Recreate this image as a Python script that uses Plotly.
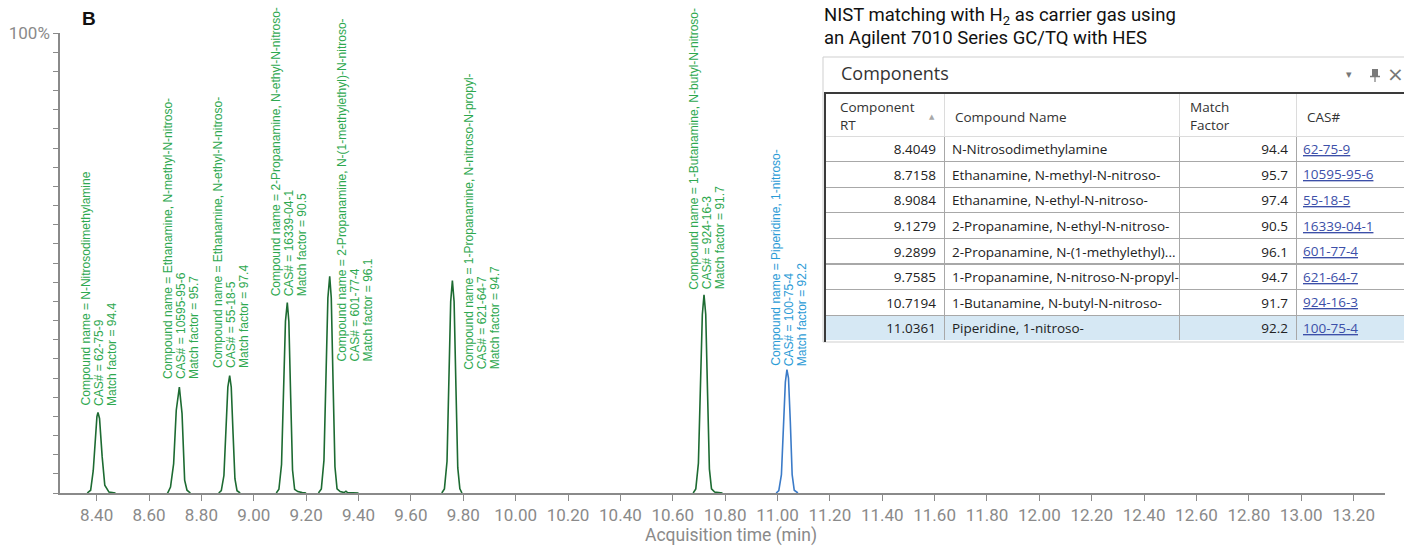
import plotly.graph_objects as go

W, H = 1404, 546

# ---------------- data ----------------
rts = [8.4049, 8.7158, 8.9084, 9.1279, 9.2899, 9.7585, 10.7194, 11.0361]
names = ["N-Nitrosodimethylamine",
         "Ethanamine, N-methyl-N-nitroso-",
         "Ethanamine, N-ethyl-N-nitroso-",
         "2-Propanamine, N-ethyl-N-nitroso-",
         "2-Propanamine, N-(1-methylethyl)-N-nitroso-",
         "1-Propanamine, N-nitroso-N-propyl-",
         "1-Butanamine, N-butyl-N-nitroso-",
         "Piperidine, 1-nitroso-"]
cas = ["62-75-9", "10595-95-6", "55-18-5", "16339-04-1",
       "601-77-4", "621-64-7", "924-16-3", "100-75-4"]
match = [94.4, 95.7, 97.4, 90.5, 96.1, 94.7, 91.7, 92.2]
apex_height = [17.5, 23.0, 25.5, 41.4, 47.1, 46.2, 43.1, 26.8]
header_labels = ["Component<br>RT", "Compound Name", "Match<br>Factor", "CAS#"]

# chromatogram traces (time in min, abundance in %)
p1_t = [8.364, 8.377, 8.387, 8.396, 8.401, 8.405, 8.411, 8.421, 8.431, 8.447, 8.472]
p1_y = [0, 0.6, 4.9, 13.6, 16.6, 17.5, 16.2, 7.9, 1.7, 0.2, 0]
p2_t = [8.670, 8.673, 8.682, 8.694, 8.704, 8.7158, 8.726, 8.736, 8.745, 8.758]
p2_y = [0, 0.2, 1.3, 6.4, 18.0, 23.0, 17.3, 2.8, 0.6, 0]
p3_t = [8.866, 8.876, 8.886, 8.894, 8.901, 8.908, 8.914, 8.921, 8.928, 8.936, 8.948]
p3_y = [0, 0.5, 3.8, 14.0, 23.0, 25.5, 23.0, 12.8, 3.1, 0.5, 0]
p4_t = [9.086, 9.096, 9.106, 9.114, 9.121, 9.128, 9.134, 9.141, 9.148, 9.156, 9.168, 9.185, 9.200]
p4_y = [0, 0.8, 6.2, 22.8, 37.3, 41.4, 37.3, 20.7, 5.0, 0.8, 0.3, 0.1, 0]
p5_t = [9.247, 9.258, 9.268, 9.276, 9.283, 9.290, 9.296, 9.303, 9.310, 9.318, 9.330, 9.345,
        9.352, 9.358, 9.375, 9.400]
p5_y = [0, 0.9, 7.1, 25.9, 42.4, 47.1, 42.4, 23.6, 5.7, 0.9, 0.3, 0.1, 0.4, 0.1, 0.1, 0]
p6_t = [9.718, 9.728, 9.738, 9.746, 9.752, 9.7585, 9.765, 9.772, 9.779, 9.787, 9.795]
p6_y = [0, 0.9, 6.9, 25.4, 41.6, 46.2, 41.6, 23.1, 5.5, 0.9, 0]
p7_t = [10.678, 10.688, 10.698, 10.706, 10.713, 10.7194, 10.726, 10.733, 10.740, 10.748, 10.760, 10.790]
p7_y = [0, 0.9, 6.5, 23.7, 38.8, 43.1, 38.8, 21.6, 5.2, 0.9, 0.2, 0]
p8_t = [10.995, 11.005, 11.015, 11.023, 11.030, 11.0361, 11.042, 11.049, 11.056, 11.064, 11.078]
p8_y = [0, 0.5, 4.0, 14.7, 24.1, 26.8, 25.0, 15.5, 4.0, 0.6, 0]

x_ticks = [8.40, 8.60, 8.80, 9.00, 9.20, 9.40, 9.60, 9.80, 10.00, 10.20, 10.40, 10.60,
           10.80, 11.00, 11.20, 11.40, 11.60, 11.80, 12.00, 12.20, 12.40, 12.60, 12.80,
           13.00, 13.20]

# ---------------- styles / layout helpers ----------------
def px(x):
    return x / W

def py(y):
    return 1 - y / H

GREEN_LINE = "#1d6b32"
BLUE_LINE = "#3b7bc8"
GREEN_TXT = "#2ea84f"
BLUE_TXT = "#2b9bd6"
AXIS_GRAY = "#8a8a8a"
TABLE_FONT = "Open Sans"
LINK_BLUE = "#3c4fa8"

# (middle-line x shift px, text-bottom y shift px) for each peak label
label_shift = [(1, 6), (1, 7), (1, 7), (2, 5), (25, -86), (30, -90), (3, 4), (2, 3)]
line_gap = 13
# header label positions (left x px, centre y px)
header_pos = [(838, 116), (953, 116.7), (1188, 116), (1305, 116.7)]
# table geometry (px)
TABLE_TOP, HEADER_H, ROW_H = 93, 43, 25.6
CAS_X = 1302

fig = go.Figure()

green_t, green_y = [], []
for t, y in [(p1_t, p1_y), (p2_t, p2_y), (p3_t, p3_y), (p4_t, p4_y),
             (p5_t, p5_y), (p6_t, p6_y), (p7_t, p7_y)]:
    green_t += t + [None]
    green_y += y + [None]

fig.add_trace(go.Scatter(x=green_t, y=green_y, mode="lines",
                         line=dict(color=GREEN_LINE, width=1.6), showlegend=False,
                         connectgaps=False, hoverinfo="skip"))
fig.add_trace(go.Scatter(x=p8_t, y=p8_y, mode="lines",
                         line=dict(color=BLUE_LINE, width=1.6), showlegend=False,
                         hoverinfo="skip"))

# table
def short(n):
    n = n if len(n) <= 34 else n[:32] + "..."
    return n.replace(" ", "\u00a0")

n_rows = len(rts)
table_bottom = TABLE_TOP + HEADER_H + ROW_H * n_rows
fill_cols = [["#ffffff"] * (n_rows - 1) + ["#d6e8f4"]] * 4
fig.add_trace(go.Table(
    domain=dict(x=[px(825), 1.0], y=[py(table_bottom), py(TABLE_TOP)]),
    columnwidth=[119, 235, 117, 108],
    header=dict(values=[""] * 4, height=HEADER_H,
                fill=dict(color="white"),
                line=dict(color="#dcdcdc", width=1),
                font=dict(family=TABLE_FONT, size=13.5, color="#333333")),
    cells=dict(values=[[f"{r:.4f}" for r in rts],
                       [short(n) for n in names],
                       [f"{m:.1f}" for m in match],
                       [""] * n_rows],
               align=["right", "left", "right", "left"], height=ROW_H,
               fill=dict(color=fill_cols),
               line=dict(color="#a8a8a8", width=1),
               font=dict(family=TABLE_FONT, size=13.5,
                         color=["#222222", "#222222", "#222222", LINK_BLUE])),
))

annotations = []
for i in range(len(rts)):
    col = BLUE_TXT if i == len(rts) - 1 else GREEN_TXT
    lines = [f"Compound name = {names[i]}", f"CAS# = {cas[i]}", f"Match factor = {match[i]}"]
    dx, dy = label_shift[i]
    for k, txt in enumerate(lines):
        annotations.append(dict(
            x=rts[i], y=apex_height[i], xref="x", yref="y", text=txt,
            textangle=-90, showarrow=False, xanchor="center", yanchor="bottom",
            xshift=dx + (k - 1) * line_gap, yshift=dy, borderpad=0,
            font=dict(family="Arial", size=12, color=col)))

for lab, (hx, hy) in zip(header_labels, header_pos):
    annotations.append(dict(x=px(hx), y=py(hy), xref="paper", yref="paper", text=lab,
                            showarrow=False, xanchor="left", yanchor="middle", align="left",
                            font=dict(family=TABLE_FONT, size=13.5, color="#333333")))

# CAS# link cells (underlined)
for i, c in enumerate(cas):
    yc = TABLE_TOP + HEADER_H + ROW_H * (i + 0.5)
    annotations.append(dict(x=px(CAS_X), y=py(yc), xref="paper", yref="paper",
                            text=f"<u>{c}</u>", showarrow=False, xanchor="left",
                            yanchor="middle", borderpad=0,
                            font=dict(family=TABLE_FONT, size=13.5, color=LINK_BLUE)))

annotations += [
    dict(x=px(80), y=py(19), xref="paper", yref="paper", text="<b>B</b>",
         showarrow=False, xanchor="left", yanchor="middle",
         font=dict(family="Arial", size=19, color="#111111")),
    dict(x=px(731), y=py(535), xref="paper", yref="paper", text="Acquisition time (min)",
         showarrow=False, xanchor="center", yanchor="middle",
         font=dict(family="Roboto", size=17.5, color=AXIS_GRAY)),
    dict(x=px(822), y=py(16), xref="paper", yref="paper",
         text="NIST matching with H<sub>2</sub> as carrier gas using",
         showarrow=False, xanchor="left", yanchor="middle", align="left",
         font=dict(family="Roboto", size=18.5, color="#111111")),
    dict(x=px(822), y=py(38), xref="paper", yref="paper",
         text="an Agilent 7010 Series GC/TQ with HES",
         showarrow=False, xanchor="left", yanchor="middle", align="left",
         font=dict(family="Roboto", size=18.5, color="#111111")),
    dict(x=px(839), y=py(73), xref="paper", yref="paper", text="Components",
         showarrow=False, xanchor="left", yanchor="middle",
         font=dict(family=TABLE_FONT, size=18, color="#333333")),
    dict(x=px(1349), y=py(75), xref="paper", yref="paper", text="▾",
         showarrow=False, xanchor="center", yanchor="middle",
         font=dict(family="DejaVu Sans", size=11, color="#777777")),
    dict(x=px(1395), y=py(74), xref="paper", yref="paper", text="×",
         showarrow=False, xanchor="center", yanchor="middle",
         font=dict(family="DejaVu Sans", size=20, color="#777777")),
    dict(x=px(932), y=py(117), xref="paper", yref="paper", text="▲",
         showarrow=False, xanchor="center", yanchor="middle",
         font=dict(family="DejaVu Sans", size=7, color="#a8a8a8")),
]

shapes = [
    # outer panel border
    dict(type="rect", xref="paper", yref="paper", x0=px(823), x1=px(1410), y0=py(342), y1=py(57),
         line=dict(color="#cfcfcf", width=1), fillcolor="rgba(0,0,0,0)", layer="above"),
    # dark table frame
    dict(type="line", xref="paper", yref="paper", x0=px(824), x1=1.0, y0=py(93), y1=py(93),
         line=dict(color="#3a3a3a", width=2), layer="above"),
    dict(type="line", xref="paper", yref="paper", x0=px(825), x1=px(825), y0=py(93), y1=py(342),
         line=dict(color="#3a3a3a", width=2), layer="above"),
    # pin icon
    dict(type="rect", xref="paper", yref="paper", x0=px(1372), x1=px(1378), y0=py(76), y1=py(69),
         line=dict(width=0), fillcolor="#7a7a7a", layer="above"),
    dict(type="line", xref="paper", yref="paper", x0=px(1370), x1=px(1380), y0=py(76.5), y1=py(76.5),
         line=dict(color="#7a7a7a", width=1.5), layer="above"),
    dict(type="line", xref="paper", yref="paper", x0=px(1375), x1=px(1375), y0=py(76.5), y1=py(82),
         line=dict(color="#7a7a7a", width=1.2), layer="above"),
]

y_tickvals = [i * 100 / 24 for i in range(25)]
y_ticktext = [""] * 24 + ["100%"]

fig.update_layout(
    width=W, height=H,
    margin=dict(l=0, r=0, t=0, b=0, pad=0, autoexpand=False),
    paper_bgcolor="white", plot_bgcolor="white",
    showlegend=False,
    annotations=annotations,
    shapes=shapes,
    xaxis=dict(domain=[px(60), px(1385)], range=[8.26, 13.32], automargin=False,
               tickvals=x_ticks, ticktext=[f"{v:.2f}" for v in x_ticks],
               ticks="outside", ticklen=6, tickwidth=1.3, tickcolor=AXIS_GRAY,
               showline=True, linecolor=AXIS_GRAY, linewidth=1.5,
               showgrid=False, zeroline=False,
               tickfont=dict(family="Roboto", size=17, color=AXIS_GRAY)),
    yaxis=dict(domain=[py(493), py(33)], range=[0, 100], automargin=False,
               tickvals=y_tickvals, ticktext=y_ticktext,
               ticks="outside", ticklen=5, tickwidth=1.3, tickcolor=AXIS_GRAY,
               showline=True, linecolor=AXIS_GRAY, linewidth=1.5,
               showgrid=False, zeroline=False,
               tickfont=dict(family="Roboto", size=17, color=AXIS_GRAY)),
)

fig.write_html("out.html")
